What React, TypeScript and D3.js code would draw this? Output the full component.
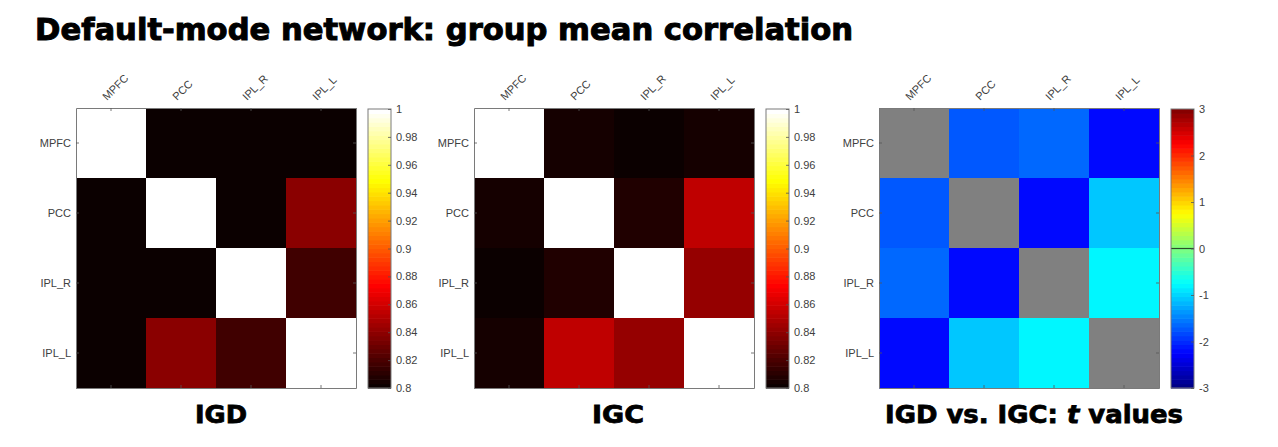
import { useEffect, useRef } from 'react';
import * as d3 from 'd3';

// regions of the default-mode network
const regions = ["MPFC", "PCC", "IPL_R", "IPL_L"];

// group mean correlation, IGD group
const igdRows = [
  [1, 0.801, 0.801, 0.801],
  [0.801, 1, 0.801, 0.84],
  [0.801, 0.801, 1, 0.817],
  [0.801, 0.84, 0.817, 1],
];

// group mean correlation, IGC group
const igcRows = [
  [1, 0.805, 0.801, 0.805],
  [0.805, 1, 0.8075, 0.855],
  [0.801, 0.8075, 1, 0.842],
  [0.805, 0.855, 0.842, 1],
];

// IGD vs IGC t values (diagonal empty)
const tRows = [
  [NaN, -1.69, -1.65, -2.16],
  [-1.69, NaN, -2.18, -1.07],
  [-1.65, -2.18, NaN, -0.78],
  [-2.16, -1.07, -0.78, NaN],
];

const corrTicks = [0.8, 0.82, 0.84, 0.86, 0.88, 0.9, 0.92, 0.94, 0.96, 0.98, 1];
const tTicks = [-3, -2, -1, 0, 1, 2, 3];

// matlab-like colormaps, 64 steps
const hot = (t: number) => {
  const i = Math.min(63, Math.max(0, Math.floor(t * 64)));
  const r = i < 24 ? (i + 1) / 24 : 1;
  const g = i < 24 ? 0 : i < 48 ? (i - 23) / 24 : 1;
  const b = i < 48 ? 0 : (i - 47) / 16;
  return d3.rgb(r * 255, g * 255, b * 255).toString();
};
const jet = (t: number) => {
  const i = Math.min(63, Math.max(0, Math.floor(t * 64)));
  const u = (i + 0.5) / 64;
  const c = (v: number) => Math.max(0, Math.min(1, v)) * 255;
  return d3.rgb(c(1.5 - Math.abs(4 * u - 3)), c(1.5 - Math.abs(4 * u - 2)), c(1.5 - Math.abs(4 * u - 1))).toString();
};

const FONT = '"Liberation Sans", Arial, sans-serif';
const TXT = '#404040';
const GRID = '#7a7a7a';

export default function App() {
  const svgRef = useRef<SVGSVGElement>(null);

  useEffect(() => {
    const svg = d3.select(svgRef.current);
    svg.selectAll("*").remove();

    const top = 108, size = 280;

    const panels = [
      { left: 76, rows: igdRows, domain: [0.8, 1], cmap: hot, ticks: corrTicks, zeroLine: false },
      { left: 474, rows: igcRows, domain: [0.8, 1], cmap: hot, ticks: corrTicks, zeroLine: false },
      { left: 879, rows: tRows, domain: [-3, 3], cmap: jet, ticks: tTicks, zeroLine: true },
    ];

    panels.forEach(p => {
      const g = svg.append("g").attr("transform", `translate(${p.left},${top})`);
      const x = d3.scaleBand().domain(regions).range([0, size]);
      const y = d3.scaleBand().domain(regions).range([0, size]);
      const norm = d3.scaleLinear().domain(p.domain).range([0, 1]).clamp(true);

      // cells
      p.rows.forEach((row, ri) => {
        g.selectAll(null)
          .data(row)
          .enter()
          .append("rect")
          .attr("x", (d, ci) => x(regions[ci])!)
          .attr("y", y(regions[ri])!)
          .attr("width", x.bandwidth() + 0.5)
          .attr("height", y.bandwidth() + 0.5)
          .attr("fill", d => isNaN(d) ? "#808080" : p.cmap(norm(d)));
      });

      // axes, ticks pointing inward
      const left = g.append("g").call(d3.axisLeft(y).tickSizeInner(-3).tickSizeOuter(0).tickPadding(5));
      const topAx = g.append("g").call(d3.axisTop(x).tickSizeInner(-3).tickSizeOuter(0).tickPadding(6));
      g.append("g").attr("transform", `translate(0,${size})`)
        .call(d3.axisBottom(x).tickSizeInner(-3).tickSizeOuter(0).tickFormat(() => ""));
      g.append("g").attr("transform", `translate(${size},0)`)
        .call(d3.axisRight(y).tickSizeInner(-3).tickSizeOuter(0).tickFormat(() => ""));

      g.selectAll(".domain").attr("stroke", GRID).attr("stroke-width", 1);
      g.selectAll(".tick line").attr("stroke", "#555").attr("stroke-width", 0.8);
      left.selectAll("text").attr("font-family", FONT).attr("font-size", 11).attr("fill", TXT);
      topAx.selectAll("text")
        .attr("font-family", FONT).attr("font-size", 11).attr("fill", TXT)
        .attr("x", 0).attr("y", 0).attr("dy", null)
        .attr("text-anchor", "start")
        .attr("transform", "translate(-4,-7) rotate(-45)");

      // colorbar
      const cbX = 292, cbW = 23, cbTop = 1, cbBot = size;
      const cy = d3.scaleLinear().domain(p.domain).range([cbBot, cbTop]);
      const cb = g.append("g").attr("transform", `translate(${cbX},0)`);
      const steps = d3.range(64);
      cb.selectAll("rect.step")
        .data(steps)
        .enter()
        .append("rect")
        .attr("class", "step")
        .attr("x", 0)
        .attr("width", cbW)
        .attr("y", i => cy(p.domain[0] + (i + 1) / 64 * (p.domain[1] - p.domain[0])))
        .attr("height", (cbBot - cbTop) / 64 + 0.6)
        .attr("fill", i => p.cmap((i + 0.5) / 64));
      if (p.zeroLine) {
        cb.append("line").attr("x1", 0).attr("x2", cbW).attr("y1", cy(0)).attr("y2", cy(0))
          .attr("stroke", "#2a4a2a").attr("stroke-width", 1.2);
      }
      cb.append("rect").attr("x", 0).attr("y", cbTop).attr("width", cbW).attr("height", cbBot - cbTop)
        .attr("fill", "none").attr("stroke", GRID).attr("stroke-width", 1);
      const cbAx = cb.append("g").attr("transform", `translate(${cbW},0)`)
        .call(d3.axisRight(cy).tickValues(p.ticks).tickFormat(d => `${d}`).tickSizeInner(-3).tickSizeOuter(0).tickPadding(5));
      cbAx.select(".domain").remove();
      cbAx.selectAll("line").attr("stroke", "#555").attr("stroke-width", 0.8);
      cbAx.selectAll("text").attr("font-family", FONT).attr("font-size", 11).attr("fill", TXT);
    });

    // title
    svg.append("text")
      .attr("x", 35).attr("y", 40)
      .attr("font-family", '"DejaVu Sans", sans-serif')
      .attr("font-weight", "bold")
      .attr("font-size", 30)
      .attr("textLength", 818)
      .attr("lengthAdjust", "spacingAndGlyphs")
      .attr("fill", "#000")
      .attr("stroke", "#000").attr("stroke-width", 1)
      .text("Default-mode network: group mean correlation");

    // panel captions
    const cap = (cx: number, w: number) => svg.append("text")
      .attr("x", cx - w / 2).attr("y", 423)
      .attr("font-family", '"DejaVu Sans", sans-serif')
      .attr("font-weight", "bold")
      .attr("font-size", 25)
      .attr("textLength", w)
      .attr("lengthAdjust", "spacingAndGlyphs")
      .attr("fill", "#000")
      .attr("stroke", "#000").attr("stroke-width", 0.8);
    cap(221, 52).text("IGD");
    cap(618, 52).text("IGC");
    const c3 = cap(1034, 298);
    c3.append("tspan").text("IGD vs. IGC: ");
    c3.append("tspan").attr("font-style", "italic").text("t");
    c3.append("tspan").text(" values");
  }, []);

  return (
    <svg
      ref={svgRef}
      width={1278}
      height={447}
      style={{ position: 'absolute', left: 0, top: 0, background: '#fff' }}
    />
  );
}
